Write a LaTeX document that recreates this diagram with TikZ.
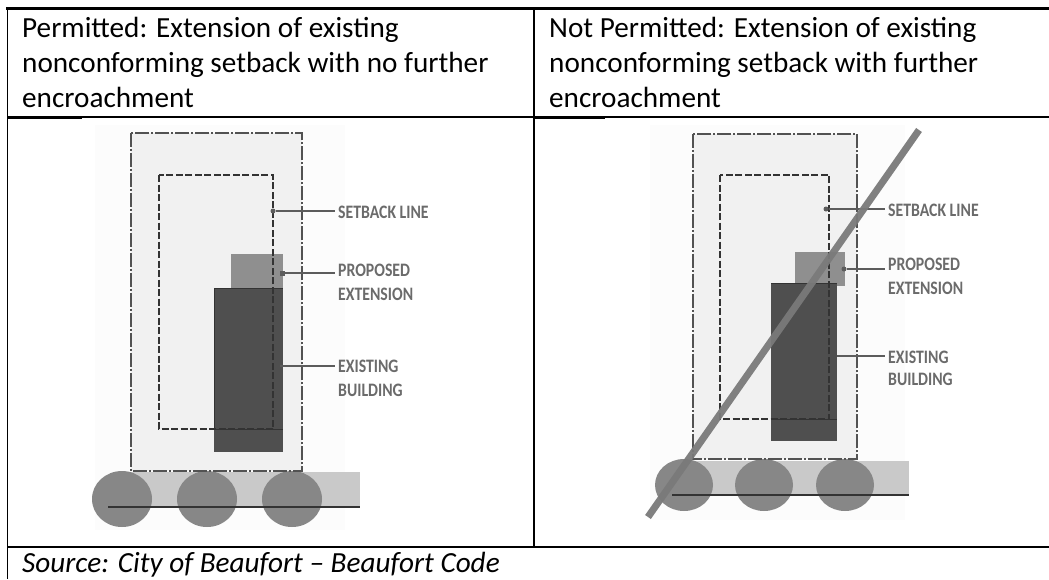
\documentclass[tikz,border=0pt]{standalone}
\usepackage{fontspec}
\setmainfont{Carlito}
\definecolor{lbl}{gray}{0.42}
\definecolor{lead}{gray}{0.36}
\definecolor{halo}{gray}{0.99}
\definecolor{plot}{gray}{0.945}
\definecolor{road}{gray}{0.79}
\definecolor{tree}{gray}{0.53}
\definecolor{ext}{gray}{0.56}
\definecolor{bldg}{gray}{0.31}
\definecolor{edge}{gray}{0.2}
\tikzset{
  rule/.style={black,line width=1.5pt},
  head/.style={font=\fontsize{29.2}{35}\selectfont,anchor=base west,inner sep=0pt},
  callout/.style={font=\fontsize{19}{22}\bfseries\selectfont,text=lbl,anchor=west,inner sep=0pt,xscale=.83,transform shape},
  leader/.style={lead,line width=1.2pt},
  tipdot/.style={circle,fill=lead,inner sep=0pt,minimum size=5pt},
  outerline/.style={draw=edge!85,line width=1.3pt,dash pattern=on 14pt off 2pt on 2pt off 2pt},
  innerline/.style={draw=edge,line width=1.2pt,dash pattern=on 7pt off 2.5pt},
}
\begin{document}
\begin{tikzpicture}[x=1pt,y=-1pt]
\useasboundingbox (0,0) rectangle (1049,579);
\fill[white] (0,0) rectangle (1049,579);
% --- left drawing
\fill[halo] (95,125) rectangle (345,530);
\fill[plot] (131,133) rectangle (302,471);
\fill[road] (122,472) rectangle (360,507);
\foreach \c in {122,207,292} \fill[tree] (\c,499) ellipse [x radius=30,y radius=28];
\fill[ext] (231,254) rectangle (283,288);
\fill[bldg] (214,288) rectangle (283,452);
\draw[edge,line width=1pt] (214,429) -- (283,429) (214,288) -- (283,288) (214,288) -- (214,429);
\draw[outerline] (131,133) rectangle (302,471);
\draw[innerline] (159,175) rectangle (273,429);
\draw[edge,line width=1.3pt] (108,507) -- (360,507);
\node[tipdot] (a1) at (273,211) {};
\node[tipdot,rectangle] (a2) at (282,273) {};
\coordinate (a3) at (280,366);
\node[callout] (s1) at (338,212) {SETBACK LINE};
\node[callout] (p1) at (338,270) {PROPOSED};
\node[callout] (x1) at (338,294) {EXTENSION};
\node[callout] (e1) at (338,366) {EXISTING};
\node[callout] (b1) at (338,390) {BUILDING};
\draw[leader] (a1) -- (335,211);
\draw[leader] (a2) -- (335,273);
\draw[leader] (a3) -- (335,366);
% --- right drawing
\fill[halo] (650,125) rectangle (905,520);
\fill[plot] (693,134) rectangle (857,459);
\fill[road] (684,461) rectangle (909,495);
\foreach \c in {684,764,845} \fill[tree] (\c,485) ellipse [x radius=29,y radius=26];
\fill[ext] (795,252) rectangle (845,286);
\fill[bldg] (771,283) rectangle (837,441);
\draw[edge,line width=1pt] (771,419) -- (837,419) (771,283) -- (837,283);
\draw[outerline] (693,134) rectangle (857,459);
\draw[innerline] (720,175) rectangle (829,419);
\draw[edge,line width=1.3pt] (672,495) -- (909,495);
\node[tipdot] (c1) at (826,209) {};
\node[tipdot] (c2) at (844,269) {};
\coordinate (c3) at (837,356);
\node[callout] (s2) at (888,210) {SETBACK LINE};
\node[callout] (p2) at (888,264) {PROPOSED};
\node[callout] (x2) at (888,288) {EXTENSION};
\node[callout] (e2) at (888,357) {EXISTING};
\node[callout] (b2) at (888,379) {BUILDING};
\draw[leader] (c1) -- (885,209);
\draw[leader] (c2) -- (885,269);
\draw[leader] (c3) -- (885,356);
\coordinate (sA) at (648,517);
\coordinate (sB) at (919,130);
\draw[black!52,line width=7pt,opacity=.95] (sA) -- (sB);
% --- table rules
\draw[rule,line width=3pt] (6,8) -- (1049,8);
\draw[rule] (7.5,8) -- (7.5,579);
\draw[rule] (534,8) -- (534,547);
\draw[rule] (7.5,117) -- (1049,117);
\draw[rule,line width=2.4pt] (7.5,117.5) -- (82,117.5) (534,117.5) -- (605,117.5);
\draw[rule,line width=2.4pt] (7.5,547) -- (1049,547);
% --- table text
\node[head] (h1) at (22,37) {Permitted: Extension of existing};
\node[head] (h2) at (22,72) {nonconforming setback with no further};
\node[head] (h3) at (22,107) {encroachment};
\node[head] (h4) at (549,37) {Not Permitted: Extension of existing};
\node[head] (h5) at (549,72) {nonconforming setback with further};
\node[head] (h6) at (549,107) {encroachment};
\node[head,font=\fontsize{29.2}{35}\itshape\selectfont] (src) at (22,572.5) {Source: City of Beaufort – Beaufort Code};
\end{tikzpicture}
\end{document}
